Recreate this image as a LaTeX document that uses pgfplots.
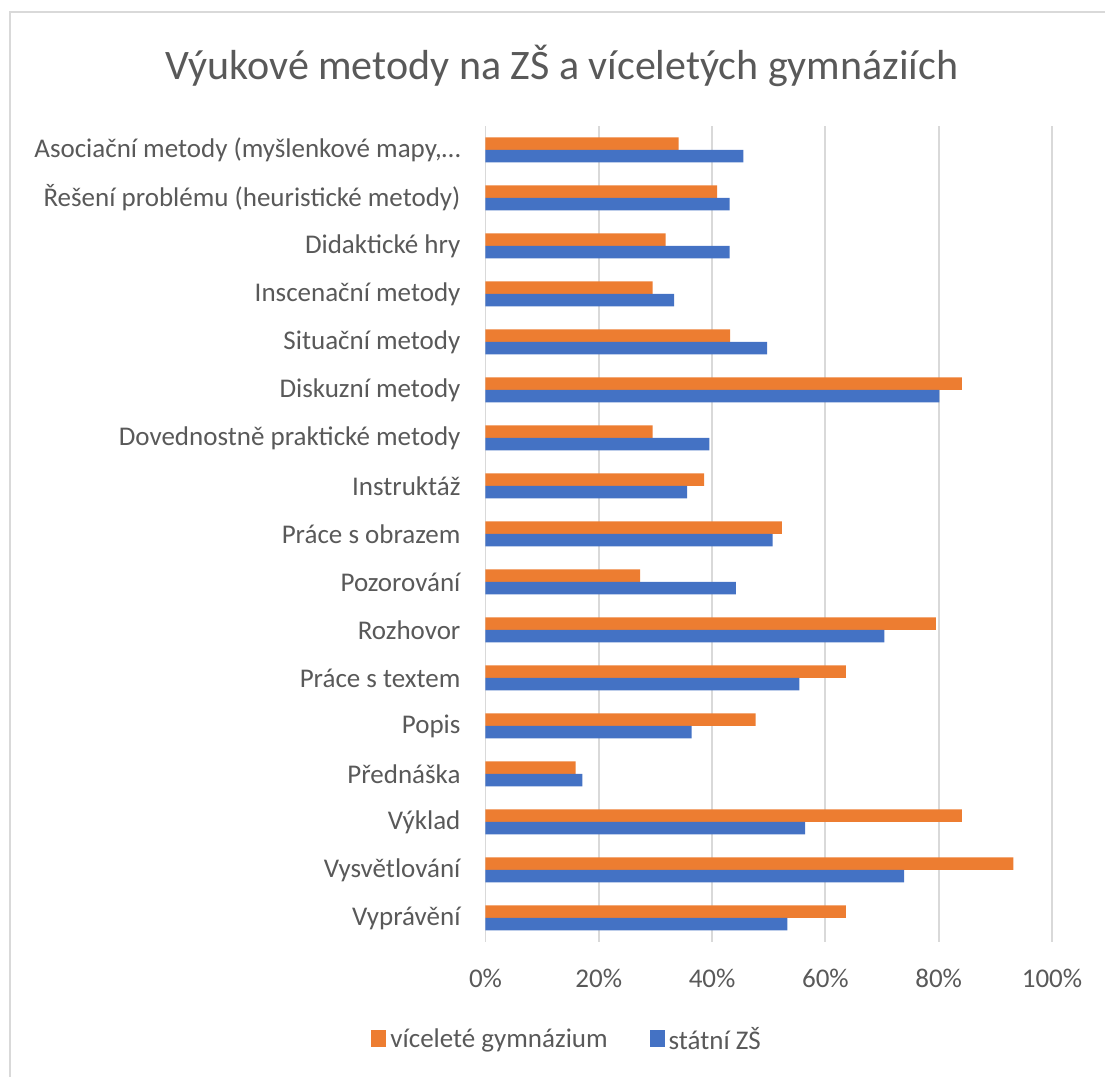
\documentclass[border=0pt]{standalone}
\usepackage{fontspec}
\setmainfont{Carlito}
\usepackage{pgfplots}
\pgfplotsset{compat=1.18}
\definecolor{orng}{HTML}{ED7D31}
\definecolor{blu}{HTML}{4472C4}
\definecolor{txt}{HTML}{595959}
\definecolor{grd}{HTML}{D9D9D9}
\begin{document}
\begin{tikzpicture}[x=1pt,y=1pt]
\path[use as bounding box] (0,0) rectangle (552.5,538.5);
\draw[grd, line width=1.2pt] (5,0) -- (5,532.5) -- (552.5,532.5);
\node[text=txt, font=\fontsize{21}{25}\selectfont] at (281,505.5) {Výukové metody na ZŠ a víceletých gymnáziích};
\begin{axis}[
  at={(242.75pt,67.5pt)}, anchor=south west,
  scale only axis, width=283.25pt, height=408pt,
  xbar, bar width=6.25pt,
  xmin=0, xmax=100, ymin=-0.5, ymax=16.5,
  ytick={0,...,16},
  yticklabels={Vyprávění, Vysvětlování, Výklad, Přednáška, Popis, Práce s textem, Rozhovor, Pozorování, Práce s obrazem, Instruktáž, Dovednostně praktické metody, Diskuzní metody, Situační metody, Inscenační metody, Didaktické hry, Řešení problému (heuristické metody), {Asociační metody (myšlenkové mapy,…}},
  xtick={0,20,...,100},
  xticklabel={\pgfmathprintnumber{\tick}\%},
  /pgf/number format/assume math mode=true,
  axis line style={draw=none},
  major tick length=0pt,
  xmajorgrids, grid style={grd, line width=0.9pt},
  tick label style={font=\fontsize{13.5}{16}\selectfont, text=txt},
  yticklabel style={xshift=-9pt},
  xticklabel style={yshift=-10pt},
  legend style={at={(0.146,-0.12)}, anchor=center, draw=none, fill=none,
    legend columns=2, font=\fontsize{13.5}{16}\selectfont, text=txt,
    /tikz/every even column/.append style={column sep=19pt},
    /tikz/every odd column/.append style={column sep=0pt}},
]
\addplot[fill=orng, draw=none, bar shift=3.125pt,
  legend image code/.code={\fill[orng] (0pt,-3.4pt) rectangle (7.5pt,5.1pt);}]
  coordinates {(63.6,0) (93.2,1) (84.1,2) (15.9,3) (47.7,4) (63.6,5) (79.5,6) (27.3,7) (52.3,8) (38.6,9) (29.5,10) (84.1,11) (43.2,12) (29.5,13) (31.8,14) (40.9,15) (34.1,16)};
\addplot[fill=blu, draw=none, bar shift=-3.125pt,
  legend image code/.code={\fill[blu] (0pt,-3.4pt) rectangle (7.5pt,5.1pt);}]
  coordinates {(53.3,0) (73.9,1) (56.4,2) (17.1,3) (36.4,4) (55.4,5) (70.4,6) (44.2,7) (50.7,8) (35.6,9) (39.5,10) (80.1,11) (49.7,12) (33.3,13) (43.1,14) (43.1,15) (45.5,16)};
\legend{víceleté gymnázium, státní ZŠ}
\end{axis}
\end{tikzpicture}
\end{document}
